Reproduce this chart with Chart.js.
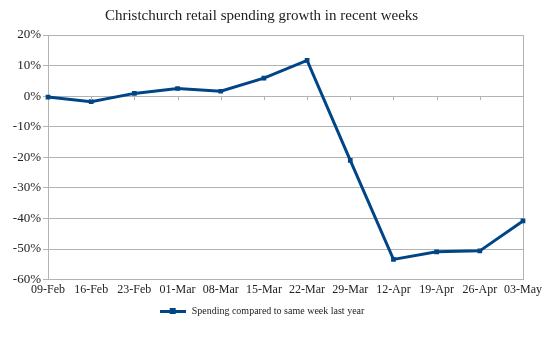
<!DOCTYPE html>
<html>
<head>
<meta charset="utf-8">
<script src="https://cdn.jsdelivr.net/npm/chart.js@4"></script>
<style>
  body { margin: 0; background: #fff; }
</style>
</head>
<body>
<canvas id="chart" width="552" height="354"></canvas>
<script>
const weeks = ['09-Feb', '16-Feb', '23-Feb', '01-Mar', '08-Mar', '15-Mar', '22-Mar', '29-Mar', '12-Apr', '19-Apr', '26-Apr', '03-May'];
const spending = [-0.3, -1.8, 0.9, 2.5, 1.6, 5.9, 11.7, -21, -53.4, -50.9, -50.6, -40.8];
const seriesName = 'Spending compared to same week last year';

const blue = '#004586';
const grid = '#b3b3b3';
const serif = "'Liberation Serif', 'DejaVu Serif', serif";

// legend symbol: line with a square in the middle
const sym = document.createElement('canvas');
sym.width = 26; sym.height = 8;
const sc = sym.getContext('2d');
sc.fillStyle = blue;
sc.fillRect(0, 3, 26, 3);
sc.fillRect(10, 1, 6, 6);

// small tick marks along the 0% line
const zeroTicks = {
  id: 'zeroTicks',
  afterDatasetsDraw(chart) {
    const { ctx, scales: { x, y } } = chart;
    const y0 = y.getPixelForValue(0);
    ctx.save();
    ctx.strokeStyle = grid;
    ctx.lineWidth = 1;
    for (let i = 1; i < weeks.length - 1; i++) {
      const px = Math.round(x.getPixelForValue(i)) + 0.5;
      ctx.beginPath();
      ctx.moveTo(px, y0);
      ctx.lineTo(px, y0 + 4);
      ctx.stroke();
    }
    ctx.restore();
  }
};

new Chart(document.getElementById('chart'), {
  type: 'line',
  data: {
    labels: weeks,
    datasets: [{
      label: seriesName,
      data: spending,
      borderColor: blue,
      backgroundColor: blue,
      borderWidth: 3,
      pointStyle: 'rect',
      pointRadius: 1.2,
      tension: 0
    }]
  },
  options: {
    responsive: false,
    animation: false,
    layout: { padding: { left: 0, right: 29, top: 0, bottom: 28 } },
    plugins: {
      title: {
        display: true,
        text: 'Christchurch retail spending growth in recent weeks',
        color: '#222',
        font: { family: serif, size: 15, weight: 'normal' },
        padding: { top: 7, bottom: 10 }
      },
      legend: {
        position: 'bottom',
        labels: {
          usePointStyle: true,
          pointStyle: sym,
          pointStyleWidth: 28,
          color: '#222',
          font: { family: serif, size: 10 },
          padding: 6
        }
      },
      tooltip: { enabled: false }
    },
    scales: {
      x: {
        offset: false,
        grid: {
          color: ctx => ctx.index === weeks.length - 1 ? grid : 'rgba(0,0,0,0)',
          drawTicks: false
        },
        border: { color: grid },
        ticks: {
          color: '#222',
          font: { family: serif, size: 12 },
          maxRotation: 0,
          autoSkip: false,
          padding: 3
        }
      },
      y: {
        min: -60,
        max: 20,
        afterFit: scale => { scale.width = 48; },
        grid: { color: grid, tickLength: 5 },
        border: { color: grid },
        ticks: {
          stepSize: 10,
          color: '#222',
          font: { family: serif, size: 13 },
          padding: 2,
          callback: v => v + '%'
        }
      }
    }
  },
  plugins: [zeroTicks]
});
</script>
</body>
</html>
